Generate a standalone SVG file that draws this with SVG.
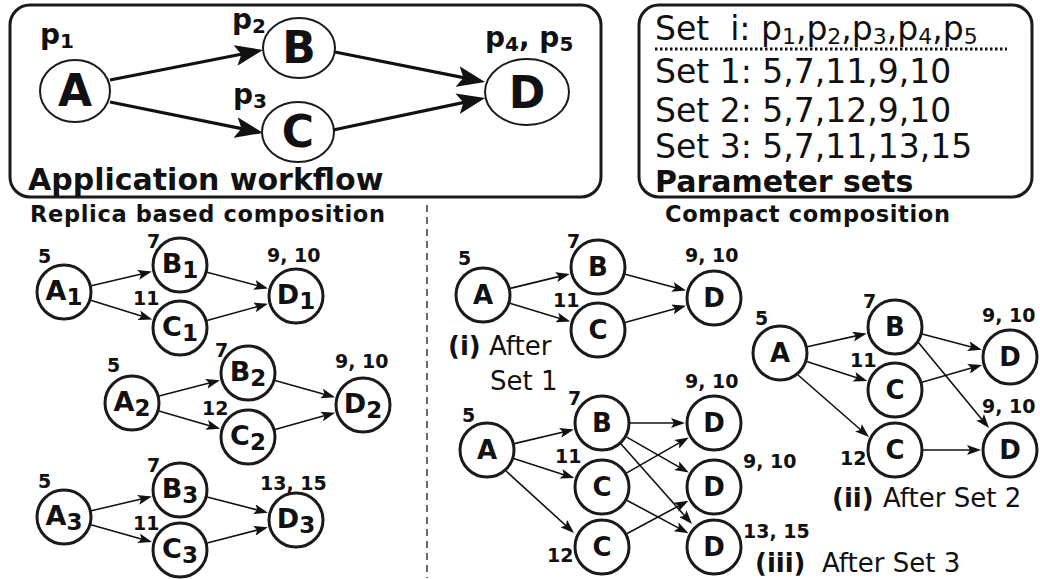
<svg xmlns="http://www.w3.org/2000/svg" width="1040" height="579" viewBox="0 0 1040 579">
<style>
text{font-family:"DejaVu Sans","Liberation Sans",sans-serif;fill:#111}
.b{font-weight:bold}
.box{fill:none;stroke:#1a1a1a;stroke-width:3}
.big{fill:#fff;stroke:#1a1a1a;stroke-width:2}
.n{fill:#fff;stroke:#1a1a1a;stroke-width:3}
.bl{font-weight:bold;font-size:44px;text-anchor:middle}
.rl{font-weight:bold;font-size:27px;text-anchor:middle}
.cl{font-weight:bold;font-size:26px;text-anchor:middle}
.num{font-weight:bold;font-size:19px}
.ps{font-size:33px}
.cap{font-size:26px}
.ea{stroke:#111;stroke-width:3.3;fill:none;marker-end:url(#mb)}
.sa{stroke:#111;stroke-width:1.6;fill:none;marker-end:url(#ms)}
</style>
<defs>
<marker id="mb" markerUnits="userSpaceOnUse" markerWidth="28" markerHeight="21" refX="20" refY="10.5" orient="auto"><path d="M0,0 L28,10.5 L0,21 L6,10.5 z" fill="#111"/></marker>
<marker id="ms" markerUnits="userSpaceOnUse" markerWidth="14" markerHeight="10" refX="11" refY="5" orient="auto"><path d="M0,0 L14,5 L0,10 L3,5 z" fill="#111"/></marker>
</defs>

<!-- Application workflow box -->
<g id="workflow-box">
<rect class="box" x="10" y="5" width="591" height="192" rx="20"/>
<text class="b" x="28" y="190" font-size="30">Application workflow</text>
</g>
<g id="connectors-top">
<line class="ea" x1="110" y1="80" x2="255.1" y2="51.5"/>
<line class="ea" x1="110" y1="102" x2="255.2" y2="131.4"/>
<line class="ea" x1="335" y1="52" x2="477.2" y2="80.4"/>
<line class="ea" x1="333" y1="130" x2="477.2" y2="99.6"/>
</g>
<g id="wA"><ellipse class="big" cx="75" cy="91" rx="35" ry="31"/><text class="bl" x="75" y="106">A</text>
<text class="b" x="40" y="44" font-size="28">p<tspan font-size="20" dy="4">1</tspan></text></g>
<g id="wB"><ellipse class="big" cx="299" cy="48" rx="36" ry="30"/><text class="bl" x="299" y="63">B</text>
<text class="b" x="232" y="29" font-size="28">p<tspan font-size="20" dy="4">2</tspan></text></g>
<g id="wC"><ellipse class="big" cx="298" cy="132" rx="36" ry="30"/><text class="bl" x="298" y="147">C</text>
<text class="b" x="233" y="104" font-size="28">p<tspan font-size="20" dy="4">3</tspan></text></g>
<g id="wD"><ellipse class="big" cx="527" cy="92" rx="42" ry="33"/><text class="bl" x="527" y="108">D</text>
<text class="b" x="485" y="47" font-size="28">p<tspan font-size="20" dy="4">4</tspan><tspan dy="-4">, p</tspan><tspan font-size="20" dy="4">5</tspan></text></g>

<!-- Parameter sets box -->
<g id="param-box">
<rect class="box" x="639" y="5" width="393" height="192" rx="20"/>
<text class="ps" x="655" y="40" xml:space="preserve">Set  i: p<tspan font-size="22" dy="4">1</tspan><tspan dy="-4">,p</tspan><tspan font-size="22" dy="4">2</tspan><tspan dy="-4">,p</tspan><tspan font-size="22" dy="4">3</tspan><tspan dy="-4">,p</tspan><tspan font-size="22" dy="4">4</tspan><tspan dy="-4">,p</tspan><tspan font-size="22" dy="4">5</tspan></text>
<line x1="655" y1="49" x2="1007" y2="49" stroke="#111" stroke-width="3" stroke-dasharray="2.5 2.5"/>
<text class="ps" x="655" y="83">Set 1: 5,7,11,9,10</text>
<text class="ps" x="655" y="122">Set 2: 5,7,12,9,10</text>
<text class="ps" x="655" y="158">Set 3: 5,7,11,13,15</text>
<text class="b" x="655" y="192" font-size="30">Parameter sets</text>
</g>

<!-- titles and divider -->
<text class="b" x="30" y="222" font-size="22.5" textLength="355" lengthAdjust="spacing">Replica based composition</text>
<text class="b" x="665" y="222" font-size="22.5" textLength="285" lengthAdjust="spacing">Compact composition</text>
<line x1="427" y1="205" x2="427" y2="578" stroke="#666" stroke-width="2" stroke-dasharray="7 5"/>

<g id="connectors">
<!-- replica 1 -->
<line class="sa" x1="91.3" y1="285.7" x2="148.9" y2="272.3"/>
<line class="sa" x1="90.7" y1="300.3" x2="149.4" y2="318.5"/>
<line class="sa" x1="207" y1="272.2" x2="265.1" y2="287.7"/>
<line class="sa" x1="207" y1="320.6" x2="265.1" y2="304.5"/>
<!-- replica 2 -->
<line class="sa" x1="159.1" y1="396" x2="217" y2="381.1"/>
<line class="sa" x1="158.9" y1="410.9" x2="217.3" y2="428"/>
<line class="sa" x1="275" y1="380.5" x2="332.2" y2="396.4"/>
<line class="sa" x1="275" y1="429.5" x2="332.2" y2="413.6"/>
<!-- replica 3 -->
<line class="sa" x1="91.3" y1="510.7" x2="148.9" y2="497.3"/>
<line class="sa" x1="90.9" y1="524.7" x2="149.2" y2="541.3"/>
<line class="sa" x1="207.1" y1="497" x2="265" y2="511.9"/>
<line class="sa" x1="207.1" y1="543" x2="265" y2="528.1"/>
<!-- compact i -->
<line class="sa" x1="510.2" y1="288.4" x2="566.9" y2="274.6"/>
<line class="sa" x1="509.8" y1="303.2" x2="567.4" y2="320.7"/>
<line class="sa" x1="625.1" y1="274.2" x2="683.1" y2="289.7"/>
<line class="sa" x1="625" y1="322.6" x2="683.1" y2="306.5"/>
<!-- compact ii -->
<line class="sa" x1="807.3" y1="346.8" x2="863.8" y2="334.1"/>
<line class="sa" x1="806.7" y1="361.6" x2="864.5" y2="380.2"/>
<line class="sa" x1="798" y1="375" x2="866.7" y2="435"/>
<line class="sa" x1="922.1" y1="334.1" x2="979" y2="348.9"/>
<line class="sa" x1="921.9" y1="382.3" x2="979.2" y2="365.8"/>
<line class="sa" x1="918" y1="342" x2="987.1" y2="425.7"/>
<line class="sa" x1="923" y1="450" x2="978" y2="450"/>
<!-- compact iii -->
<line class="sa" x1="514.3" y1="443.6" x2="570.9" y2="430.3"/>
<line class="sa" x1="513.7" y1="458.6" x2="571.5" y2="477.2"/>
<line class="sa" x1="506" y1="471" x2="571.8" y2="531"/>
<line class="sa" x1="630" y1="423" x2="682" y2="423"/>
<line class="sa" x1="626.3" y1="436.9" x2="686.2" y2="471.1"/>
<line class="sa" x1="620.8" y1="443.8" x2="690" y2="521.8"/>
<line class="sa" x1="626.3" y1="473.1" x2="686.2" y2="438.9"/>
<line class="sa" x1="626.7" y1="500.2" x2="685.8" y2="531.9"/>
<line class="sa" x1="626.7" y1="533.8" x2="685.8" y2="502.1"/>
</g>

<!-- Replica nodes -->
<g id="rA1"><circle class="n" cx="64" cy="292" r="27"/><text class="rl" x="64" y="300">A<tspan font-size="23" dy="5">1</tspan></text><text class="num" x="38" y="263">5</text></g>
<g id="rB1"><circle class="n" cx="180" cy="265" r="27"/><text class="rl" x="180" y="273">B<tspan font-size="23" dy="5">1</tspan></text><text class="num" x="147" y="248">7</text></g>
<g id="rC1"><circle class="n" cx="180" cy="328" r="27"/><text class="rl" x="180" y="336">C<tspan font-size="23" dy="5">1</tspan></text><text class="num" x="133" y="305">11</text></g>
<g id="rD1"><circle class="n" cx="296" cy="296" r="27"/><text class="rl" x="296" y="304">D<tspan font-size="23" dy="5">1</tspan></text><text class="num" x="267" y="262">9, 10</text></g>

<g id="rA2"><circle class="n" cx="132" cy="403" r="27"/><text class="rl" x="132" y="411">A<tspan font-size="23" dy="5">2</tspan></text><text class="num" x="107" y="372">5</text></g>
<g id="rB2"><circle class="n" cx="248" cy="373" r="27"/><text class="rl" x="248" y="381">B<tspan font-size="23" dy="5">2</tspan></text><text class="num" x="215" y="357">7</text></g>
<g id="rC2"><circle class="n" cx="248" cy="437" r="27"/><text class="rl" x="248" y="445">C<tspan font-size="23" dy="5">2</tspan></text><text class="num" x="202" y="415">12</text></g>
<g id="rD2"><circle class="n" cx="363" cy="405" r="27"/><text class="rl" x="363" y="413">D<tspan font-size="23" dy="5">2</tspan></text><text class="num" x="335" y="368">9, 10</text></g>

<g id="rA3"><circle class="n" cx="64" cy="517" r="27"/><text class="rl" x="64" y="525">A<tspan font-size="23" dy="5">3</tspan></text><text class="num" x="38" y="488">5</text></g>
<g id="rB3"><circle class="n" cx="180" cy="490" r="27"/><text class="rl" x="180" y="498">B<tspan font-size="23" dy="5">3</tspan></text><text class="num" x="147" y="472">7</text></g>
<g id="rC3"><circle class="n" cx="180" cy="550" r="27"/><text class="rl" x="180" y="558">C<tspan font-size="23" dy="5">3</tspan></text><text class="num" x="133" y="530">11</text></g>
<g id="rD3"><circle class="n" cx="296" cy="520" r="27"/><text class="rl" x="296" y="528">D<tspan font-size="23" dy="5">3</tspan></text><text class="num" x="260" y="490">13, 15</text></g>

<!-- Compact (i) -->
<g id="iA"><circle class="n" cx="483" cy="295" r="27"/><text class="cl" x="483" y="304">A</text><text class="num" x="458" y="265">5</text></g>
<g id="iB"><circle class="n" cx="598" cy="267" r="27"/><text class="cl" x="598" y="276">B</text><text class="num" x="567" y="248">7</text></g>
<g id="iC"><circle class="n" cx="598" cy="330" r="27"/><text class="cl" x="598" y="339">C</text><text class="num" x="553" y="307">11</text></g>
<g id="iD"><circle class="n" cx="714" cy="298" r="27"/><text class="cl" x="714" y="307">D</text><text class="num" x="685" y="262">9, 10</text></g>
<g id="i-cap"><text class="cap" x="448" y="355"><tspan class="b">(i)</tspan> After</text><text class="cap" x="490" y="390">Set 1</text></g>

<!-- Compact (ii) -->
<g id="iiA"><circle class="n" cx="780" cy="353" r="27"/><text class="cl" x="780" y="362">A</text><text class="num" x="755" y="325">5</text></g>
<g id="iiB"><circle class="n" cx="895" cy="327" r="27"/><text class="cl" x="895" y="336">B</text><text class="num" x="863" y="308">7</text></g>
<g id="iiC1"><circle class="n" cx="895" cy="390" r="27"/><text class="cl" x="895" y="399">C</text><text class="num" x="850" y="367">11</text></g>
<g id="iiC2"><circle class="n" cx="895" cy="450" r="27"/><text class="cl" x="895" y="459">C</text><text class="num" x="840" y="465">12</text></g>
<g id="iiD1"><circle class="n" cx="1010" cy="357" r="27"/><text class="cl" x="1010" y="366">D</text><text class="num" x="982" y="322">9, 10</text></g>
<g id="iiD2"><circle class="n" cx="1010" cy="450" r="27"/><text class="cl" x="1010" y="459">D</text><text class="num" x="982" y="413">9, 10</text></g>
<g id="ii-cap"><text class="cap b" x="832" y="507">(ii)</text><text class="cap" x="883" y="507">After Set 2</text></g>

<!-- Compact (iii) -->
<g id="iiiA"><circle class="n" cx="487" cy="450" r="27"/><text class="cl" x="487" y="459">A</text><text class="num" x="462" y="422">5</text></g>
<g id="iiiB"><circle class="n" cx="602" cy="423" r="27"/><text class="cl" x="602" y="432">B</text><text class="num" x="568" y="405">7</text></g>
<g id="iiiC1"><circle class="n" cx="602" cy="487" r="27"/><text class="cl" x="602" y="496">C</text><text class="num" x="555" y="463">11</text></g>
<g id="iiiC2"><circle class="n" cx="602" cy="547" r="27"/><text class="cl" x="602" y="556">C</text><text class="num" x="547" y="562">12</text></g>
<g id="iiiD1"><circle class="n" cx="714" cy="423" r="27"/><text class="cl" x="714" y="432">D</text><text class="num" x="685" y="388">9, 10</text></g>
<g id="iiiD2"><circle class="n" cx="714" cy="487" r="27"/><text class="cl" x="714" y="496">D</text><text class="num" x="743" y="468">9, 10</text></g>
<g id="iiiD3"><circle class="n" cx="714" cy="547" r="27"/><text class="cl" x="714" y="556">D</text><text class="num" x="743" y="538">13, 15</text></g>
<g id="iii-cap"><text class="cap b" x="755" y="572">(iii)</text><text class="cap" x="822" y="572">After Set 3</text></g>
</svg>
